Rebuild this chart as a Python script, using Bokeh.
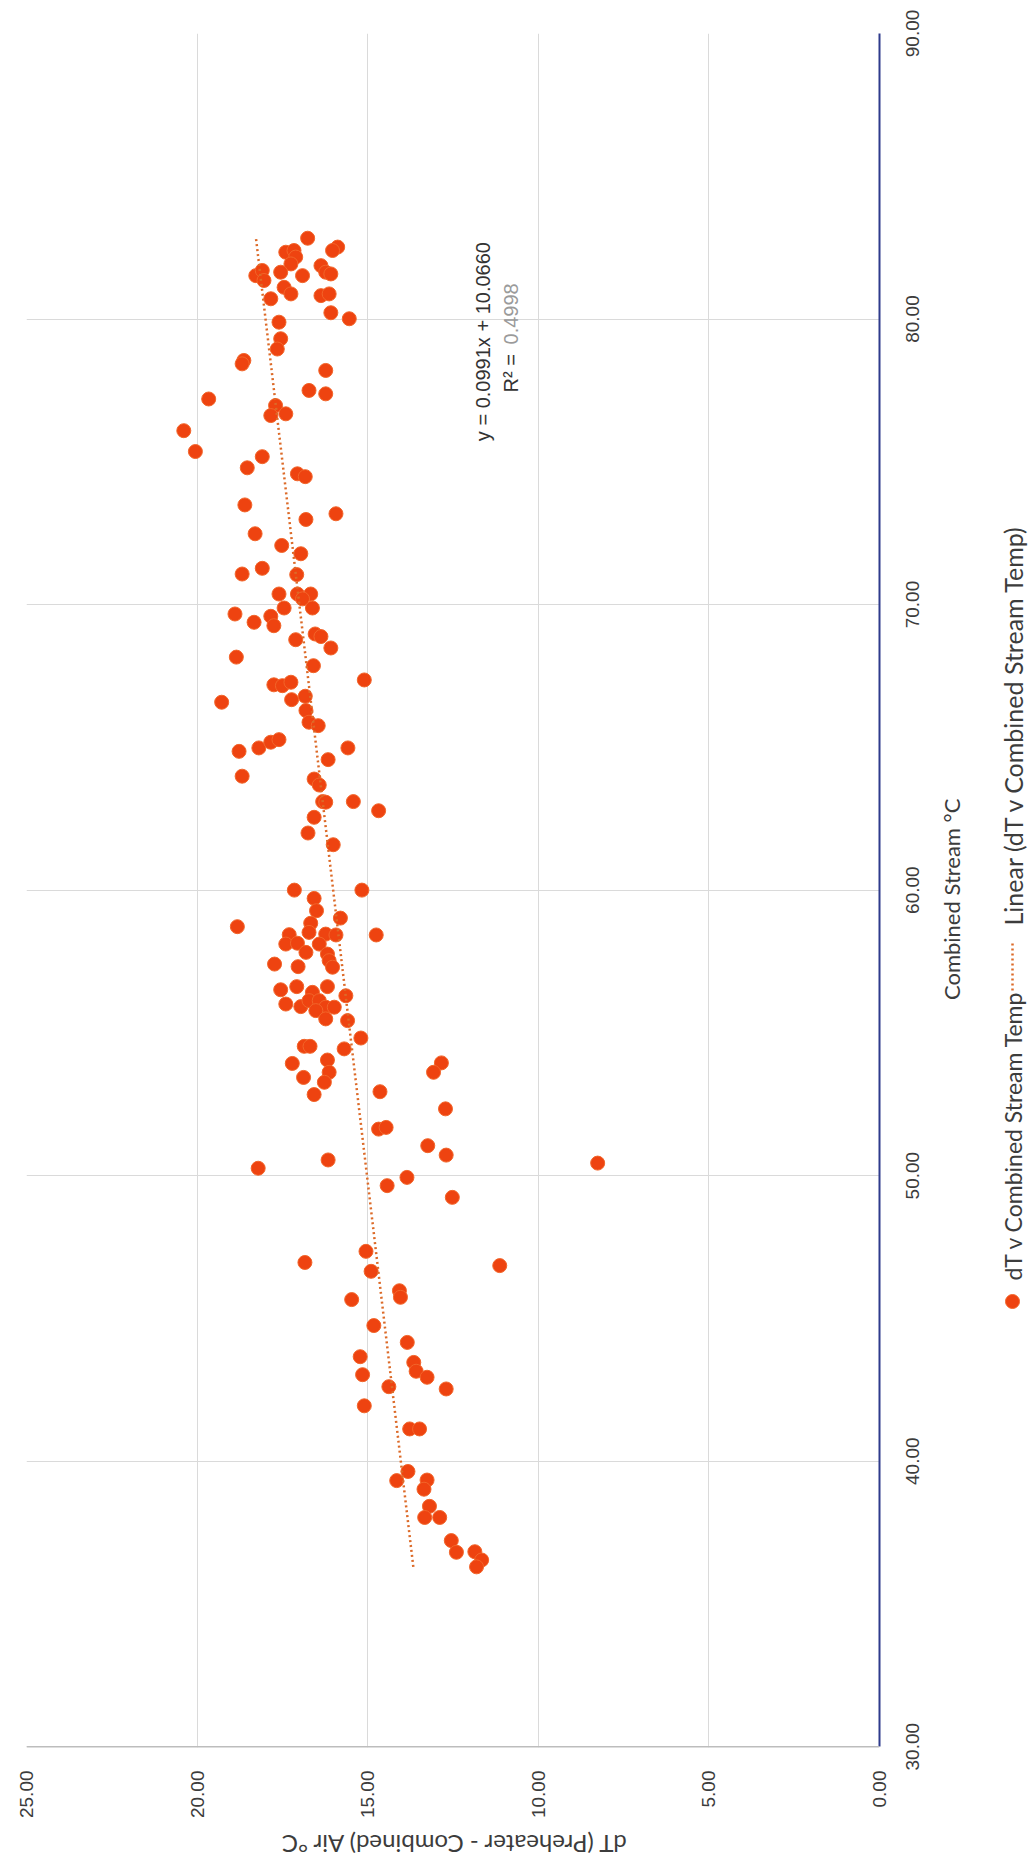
import math
from bokeh.plotting import figure
from bokeh.models import (Range1d, FixedTicker, NumeralTickFormatter, Label, ColumnDataSource,
                          LinearAxis, Span, BoxAnnotation)
from bokeh.core.properties import value
from bokeh.layouts import row, column
from bokeh.embed import file_html
from bokeh.resources import INLINE

# ---- data ----
combined = [
    82.83, 82.52, 82.40, 82.34, 82.40, 82.17, 81.93, 81.87, 81.64, 81.58, 81.52, 81.70, 81.35, 81.64, 81.52,
    81.11, 80.88, 80.71, 80.82, 80.88, 80.22, 80.01, 79.89, 79.31, 78.95, 78.55, 78.43, 78.20, 77.50, 77.38,
    77.20, 76.97, 76.62, 76.68, 76.09, 75.36,
    75.18, 74.79, 74.58, 74.48, 73.49, 73.18, 72.98, 72.48, 72.07, 71.78, 71.07, 71.27, 71.05, 70.37, 70.37,
    70.37, 70.20, 69.88, 69.88, 69.67, 69.38, 69.59, 69.26, 68.77, 68.97, 68.88, 68.48, 68.16, 67.86, 67.36,
    67.19, 67.16, 67.28, 66.58, 66.67, 66.79, 66.29, 65.88, 65.76, 64.86, 64.98, 65.18, 65.27, 64.98, 64.57,
    63.99, 63.89, 63.68, 63.10, 63.08, 63.10, 62.78, 62.55, 62.00, 61.59, 60.00, 60.00, 59.71,
    59.28, 59.02, 58.72, 58.84, 58.43, 58.44, 58.11, 58.14, 58.52, 58.46, 58.43, 58.11, 57.82, 57.76, 57.53,
    57.30, 57.41, 57.32, 56.51, 56.62, 56.62, 56.30, 56.42, 56.01, 55.92, 56.13, 56.13, 55.90, 55.90, 55.78,
    55.49, 55.43, 54.82, 54.53, 54.53, 54.44, 53.93, 54.05, 53.62, 53.44, 53.27, 52.84, 53.95, 53.62, 52.94,
    52.34,
    51.63, 51.69, 51.05, 50.72, 50.44, 50.26, 50.55, 49.94, 49.65, 49.24, 47.35, 46.96, 46.85, 46.65, 45.97,
    45.74, 45.66, 44.75, 44.16,
    43.66, 43.46, 43.03, 43.15, 42.94, 42.61, 42.53, 41.94, 41.13, 41.13, 39.64, 39.32, 39.34, 39.02, 38.42,
    38.03, 38.03, 37.22, 36.81, 36.83, 36.54, 36.30,
]
dt = [
    16.76, 15.88, 16.03, 17.40, 17.16, 17.11, 17.25, 16.37, 16.23, 16.08, 18.28, 18.09, 18.04, 17.55, 16.91,
    17.45, 17.25, 17.84, 16.37, 16.13, 16.08, 15.54, 17.60, 17.55, 17.65, 18.63, 18.68, 16.23, 16.72, 16.23,
    19.66, 17.70, 17.84, 17.40, 20.39, 20.05,
    18.09, 18.53, 17.06, 16.83, 18.60, 15.93, 16.81, 18.30, 17.52, 16.96, 18.68, 18.09, 17.08, 17.60, 17.06,
    16.67, 16.91, 17.45, 16.62, 18.89, 18.33, 17.84, 17.75, 17.11, 16.54, 16.37, 16.08, 18.85, 16.59, 15.10,
    17.75, 17.50, 17.25, 19.28, 17.23, 16.83, 16.81, 16.72, 16.45, 18.77, 18.19, 17.84, 17.60, 15.58, 16.16,
    18.68, 16.57, 16.42, 16.32, 16.23, 15.42, 14.68, 16.57, 16.75, 16.01, 17.15, 15.17, 16.57,
    16.50, 15.80, 18.82, 16.67, 14.75, 17.30, 17.40, 17.06, 16.72, 16.23, 15.93, 16.42, 16.81, 16.18, 16.13,
    16.03, 17.73, 17.04, 17.55, 17.08, 16.18, 15.64, 16.62, 17.40, 16.96, 16.72, 16.42, 16.23, 15.98, 16.52,
    16.23, 15.59, 15.20, 16.86, 16.69, 15.69, 17.21, 16.18, 16.13, 16.88, 16.27, 16.57, 12.84, 13.07, 14.64,
    12.72,
    14.68, 14.46, 13.24, 12.70, 8.26, 18.21, 16.16, 13.85, 14.43, 12.52, 15.05, 16.84, 11.13, 14.90, 14.07,
    14.04, 15.47, 14.82, 13.84,
    15.22, 13.65, 15.15, 13.58, 13.26, 14.38, 12.70, 15.10, 13.77, 13.48, 13.82, 14.15, 13.26, 13.35, 13.19,
    13.33, 12.89, 12.55, 12.40, 11.86, 11.66, 11.81,
]
slope = 0.0991
intercept = 10.0660
r_squared = 0.4998
dt_ticks = [0, 5, 10, 15, 20, 25]
combined_ticks = [30, 40, 50, 60, 70, 80, 90]
series_name = "dT v Combined Stream Temp"
trend_name = "Linear (dT v Combined Stream Temp)"
x_title = "Combined Stream  \u00b0C"
y_title = "dT (Preheater - Combined) Air \u00b0C"

DOT = "#EE4310"
DOT_EDGE = "#F2652A"
TREND = "#DC6A28"
TEXT = "#3C3C3C"
BLUE = "#2E3B8C"
BASE_GREY = "#BDBDBD"

PAGE_W, PAGE_H = 1031, 1860
C_MIN, C_MAX = combined_ticks[0], combined_ticks[-1]
PLOT_H = 1713                       # pixels between 30 and 90
TICK_FONT_PX = 19
px_per_unit = PLOT_H / (C_MAX - C_MIN)
half_label_px = 2.5 * TICK_FONT_PX / 2
half_label = half_label_px / px_per_unit
# The frame reaches half a tick label below 30 so the centred "30.00" label can be placed.
y_start = C_MIN - half_label
FRAME_W = 853
FRAME_H = round(PLOT_H + half_label_px)
TOP, LEFT, RIGHT, BOTTOM = 33, 26, 58, 52

p = figure(frame_width=FRAME_W, frame_height=FRAME_H, x_range=Range1d(25, 0), y_range=Range1d(y_start, C_MAX),
           y_axis_location="right", output_backend="svg", toolbar_location=None,
           min_border_left=LEFT, min_border_top=TOP, min_border_right=RIGHT, min_border_bottom=BOTTOM)
p.outline_line_color = None
p.background_fill_color = "white"

xa = p.xaxis[0]
xa.ticker = FixedTicker(ticks=dt_ticks)
xa.formatter = NumeralTickFormatter(format="0.00")
xa.major_label_orientation = math.pi / 2
xa.major_label_standoff = 0
xa.major_tick_out = 0
xa.major_tick_in = 0
xa.major_tick_line_color = None
xa.minor_tick_line_color = None
xa.axis_line_color = None
xa.major_label_text_font = "Liberation Sans"
xa.major_label_text_font_size = f"{TICK_FONT_PX}px"
xa.major_label_text_color = TEXT

# Right side: a bare axis that draws the blue line from 30 to 90, then the labelled axis.
# Bokeh starts rotated labels at the tick on this side, so each label's anchor sits half a
# label length lower so the text is centred on its gridline.
label_pos = [t - half_label for t in combined_ticks]
ya = p.yaxis[0]
ya.ticker = FixedTicker(ticks=label_pos)
ya.major_label_overrides = {pos: f"{t:.2f}" for pos, t in zip(label_pos, combined_ticks)}
ya.major_label_orientation = math.pi / 2
ya.major_label_standoff = 33
ya.major_tick_out = 0
ya.major_tick_in = 0
ya.major_tick_line_color = None
ya.minor_tick_line_color = None
ya.axis_line_color = None
ya.major_label_text_font = "Liberation Sans"
ya.major_label_text_font_size = f"{TICK_FONT_PX}px"
ya.major_label_text_color = TEXT

line_axis = LinearAxis(bounds=(C_MIN, C_MAX), ticker=FixedTicker(ticks=[]),
                       axis_line_color=BLUE, axis_line_width=2,
                       major_tick_out=0, major_tick_in=0, minor_tick_out=0, minor_tick_in=0,
                       major_label_standoff=0, major_tick_line_color=None, minor_tick_line_color=None)
p.right = [line_axis, ya]

p.xgrid.ticker = FixedTicker(ticks=dt_ticks)
p.ygrid.ticker = FixedTicker(ticks=combined_ticks)
p.grid.grid_line_color = "#DADADA"
p.grid.grid_line_width = 1

# blank strip below 30 (outside the chart area) and the grey base line at 30
p.add_layout(BoxAnnotation(bottom=y_start, top=C_MIN - 0.02, fill_color="white", fill_alpha=1.0,
                           line_color=None))
p.add_layout(Span(location=C_MIN, dimension="width", line_color=BASE_GREY, line_width=1.5))

src = ColumnDataSource(dict(dt=dt, combined=combined))
p.scatter(x="dt", y="combined", source=src, size=14, fill_color=DOT, line_color=DOT_EDGE, line_width=1)

x0, x1 = min(combined), max(combined)
p.line(x=[slope * x0 + intercept, slope * x1 + intercept], y=[x0, x1],
       line_color=TREND, line_width=2.5, line_dash="2 3")

eq_font = "Liberation Sans"
p.add_layout(Label(x=11.62, y=79.21, text=f"y = {slope:.4f}x + {intercept:.4f}", angle=math.pi / 2,
                   text_align="center", text_baseline="middle", text_font=eq_font,
                   text_font_size="20px", text_color="#333333"))
p.add_layout(Label(x=10.80, y=77.43, text="R\u00b2 =", angle=math.pi / 2,
                   text_align="left", text_baseline="middle", text_font=eq_font,
                   text_font_size="20px", text_color="#333333"))
p.add_layout(Label(x=10.80, y=79.11, text=f"{r_squared:.4f}", angle=math.pi / 2,
                   text_align="left", text_baseline="middle", text_font=eq_font,
                   text_font_size="20px", text_color="#9A9A9A"))

P_W = LEFT + FRAME_W + RIGHT
P_H = TOP + FRAME_H + BOTTOM
FRAME_BOTTOM_PAGE = TOP + FRAME_H


def qy(page_y):
    return FRAME_BOTTOM_PAGE - page_y


# ---- strip to the right: x-axis title + rotated legend (pixel coordinates) ----
QW = PAGE_W - P_W
q = figure(frame_width=QW, frame_height=FRAME_H, x_range=Range1d(0, QW), y_range=Range1d(0, FRAME_H),
           x_axis_type=None, y_axis_type=None, output_backend="svg", toolbar_location=None,
           min_border_left=0, min_border_right=0, min_border_top=TOP, min_border_bottom=0)
q.outline_line_color = None
q.grid.visible = False
q.text(x=[14], y=[qy(896)], text=[x_title], angle=math.pi / 2, text_align="center",
       text_baseline="middle", text_font=value("Lato"), text_font_size="22px", text_color=TEXT)
LX = 1012 - P_W
q.scatter(x=[LX], y=[qy(1301)], size=14, fill_color=DOT, line_color=DOT_EDGE)
q.text(x=[LX], y=[qy(1280)], text=[series_name], angle=math.pi / 2, text_align="left",
       text_baseline="middle", text_font=value("Lato"), text_font_size="23px", text_color=TEXT)
q.line(x=[LX, LX], y=[qy(990), qy(943)], line_color=TREND, line_width=2.5, line_dash="2 3")
q.text(x=[LX], y=[qy(925)], text=[trend_name], angle=math.pi / 2, text_align="left",
       text_baseline="middle", text_font=value("Lato"), text_font_size="25px", text_color=TEXT)

# ---- strip below: y-axis title, upside down, centred under the frame ----
RH = PAGE_H - P_H
r = figure(frame_width=PAGE_W, frame_height=RH, x_range=Range1d(0, PAGE_W), y_range=Range1d(0, RH),
           x_axis_type=None, y_axis_type=None, output_backend="svg", toolbar_location=None,
           min_border=0)
r.outline_line_color = None
r.grid.visible = False
r.text(x=[LEFT + FRAME_W / 2], y=[RH - (1844 - P_H)], text=[y_title], angle=math.pi, text_align="center",
       text_baseline="middle", text_font=value("Lato"), text_font_size="24px", text_color=TEXT)

layout = column(row(p, q), r)
html = file_html(layout, INLINE)
html = html.replace("</head>", "<style>html,body{overflow:hidden;}</style></head>", 1)
open("out.html", "w").write(html)
